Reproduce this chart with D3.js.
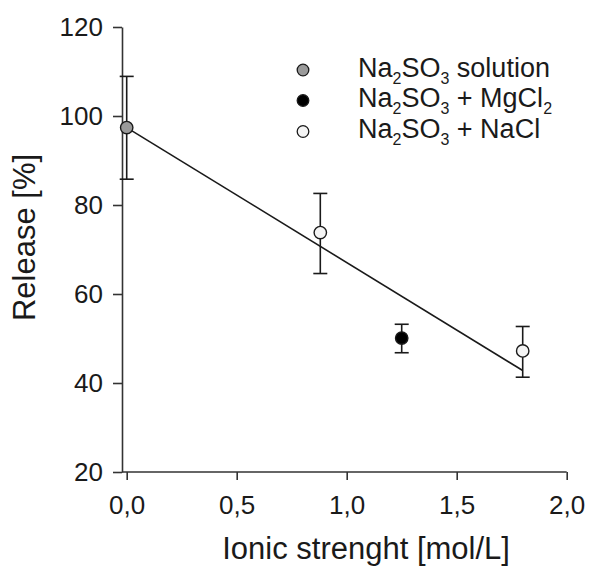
<!DOCTYPE html>
<html>
<head>
<meta charset="utf-8">
<script src="https://cdn.jsdelivr.net/npm/d3@7"></script>
<style>
  html, body { margin: 0; padding: 0; background: #fff; }
  svg { display: block; font-family: "Liberation Sans", Arial, sans-serif; }
</style>
</head>
<body>
<svg id="chart" width="592" height="566"></svg>
<script>
// ---- data ----
const seriesNames = ["solution", "MgCl", "NaCl"];
const seriesFills = ["#9a9a9a", "#000000", "#f4f4f4"];
const pointX = [0, 0.88, 1.25, 1.8];
const pointY = [97.4, 73.8, 50.1, 47.2];
const errLow = [85.8, 64.6, 46.8, 41.3];
const errHigh = [108.9, 82.6, 53.2, 52.7];
const pointSeries = [0, 2, 1, 2];
const fitX = [0, 1.8];
const fitY = [97.4, 42.8];
const xTicks = [0, 0.5, 1.0, 1.5, 2.0];
const yTicks = [20, 40, 60, 80, 100, 120];
const xTitle = "Ionic strenght [mol/L]";
const yTitle = "Release [%]";

const svg = d3.select("#chart");
const ink = "#1a1a1a";
const axisInk = "#333";
const FONT = "Liberation Sans, Arial, sans-serif";

const x = d3.scaleLinear().domain([0, 2]).range([126.7, 566.7]);
const y = d3.scaleLinear().domain([20, 120]).range([472, 27]);
const yAxisX = 122;

// y axis
const gy = svg.append("g").attr("transform", `translate(${yAxisX},0)`)
  .call(d3.axisLeft(y).tickValues(yTicks).tickSize(9).tickSizeOuter(0).tickFormat(d3.format("d")));
gy.select(".domain").attr("stroke", axisInk).attr("stroke-width", 1.6);
gy.selectAll(".tick line").attr("stroke", axisInk).attr("stroke-width", 1.6);
gy.selectAll(".tick text").attr("font-size", 26).attr("fill", ink).attr("x", -19)
  .attr("font-family", FONT);

// x axis
const gx = svg.append("g").attr("transform", `translate(0,${y(20)})`)
  .call(d3.axisBottom(x).tickValues(xTicks).tickSize(8).tickSizeOuter(0)
    .tickFormat(d => d3.format(".1f")(d).replace(".", ",")));
gx.select(".domain").remove();
gx.append("line").attr("x1", yAxisX).attr("x2", x(2)).attr("y1", 0).attr("y2", 0)
  .attr("stroke", axisInk).attr("stroke-width", 1.6);
gx.selectAll(".tick line").attr("stroke", axisInk).attr("stroke-width", 1.6);
gx.selectAll(".tick text").attr("font-size", 26).attr("fill", ink).attr("y", 24)
  .attr("font-family", FONT);

// titles
svg.append("text").attr("x", x(1.088)).attr("y", 559).attr("text-anchor", "middle")
  .attr("font-size", 31).attr("fill", ink).text(xTitle);
svg.append("text").attr("transform", `translate(35,${237.5}) rotate(-90)`)
  .attr("text-anchor", "middle").attr("font-size", 31).attr("fill", ink).text(yTitle);

// fit line
svg.append("line")
  .attr("x1", x(fitX[0])).attr("y1", y(fitY[0]))
  .attr("x2", x(fitX[1])).attr("y2", y(fitY[1]))
  .attr("stroke", ink).attr("stroke-width", 1.6);

// error bars
const idx = d3.range(pointX.length);
const eb = svg.append("g").attr("stroke", ink).attr("stroke-width", 1.6);
eb.selectAll("line.v").data(idx).join("line")
  .attr("x1", i => x(pointX[i])).attr("x2", i => x(pointX[i]))
  .attr("y1", i => y(errLow[i])).attr("y2", i => y(errHigh[i]));
eb.selectAll("line.t").data(idx).join("line")
  .attr("x1", i => x(pointX[i]) - 7).attr("x2", i => x(pointX[i]) + 7)
  .attr("y1", i => y(errHigh[i])).attr("y2", i => y(errHigh[i]));
eb.selectAll("line.b").data(idx).join("line")
  .attr("x1", i => x(pointX[i]) - 7).attr("x2", i => x(pointX[i]) + 7)
  .attr("y1", i => y(errLow[i])).attr("y2", i => y(errLow[i]));

// points
svg.append("g").selectAll("circle").data(idx).join("circle")
  .attr("cx", i => x(pointX[i])).attr("cy", i => y(pointY[i])).attr("r", 6.2)
  .attr("fill", i => seriesFills[pointSeries[i]])
  .attr("stroke", ink).attr("stroke-width", 1.4);

// legend
const legend = svg.append("g");
const legendRows = [70, 100.5, 131.5];
seriesNames.forEach((name, k) => {
  legend.append("circle").attr("cx", 303).attr("cy", legendRows[k]).attr("r", 5.8)
    .attr("fill", seriesFills[k]).attr("stroke", ink).attr("stroke-width", 1.3);
  const t = legend.append("text").attr("x", 358).attr("y", legendRows[k] + 6.5)
    .attr("font-size", 27).attr("fill", ink);
  t.append("tspan").text("Na");
  t.append("tspan").attr("font-size", 16).attr("dy", 7).text("2");
  t.append("tspan").attr("dy", -7).text("SO");
  t.append("tspan").attr("font-size", 16).attr("dy", 7).text("3");
  if (k === 0) {
    t.append("tspan").attr("dy", -7).text(" solution");
  } else if (k === 1) {
    t.append("tspan").attr("dy", -7).text(" + MgCl");
    t.append("tspan").attr("font-size", 16).attr("dy", 7).text("2");
  } else {
    t.append("tspan").attr("dy", -7).text(" + NaCl");
  }
});
</script>
</body>
</html>
